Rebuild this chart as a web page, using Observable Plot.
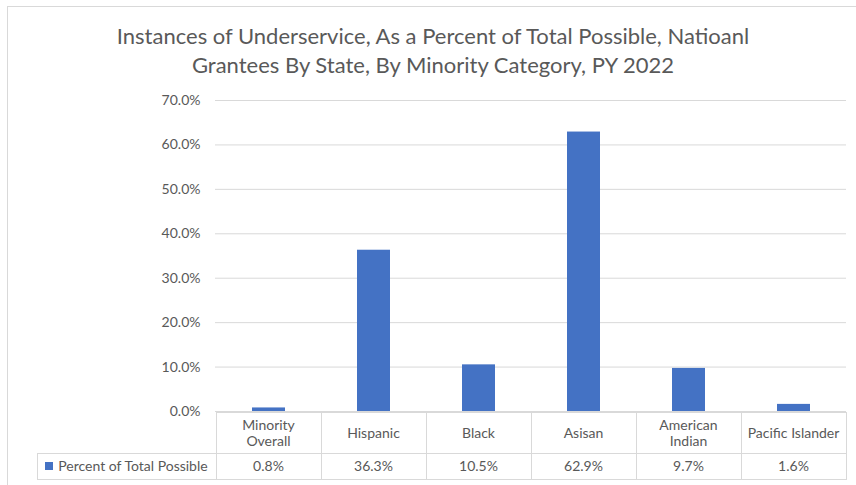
<!DOCTYPE html>
<html>
<head>
<meta charset="utf-8">
<script src="https://cdn.jsdelivr.net/npm/d3@7"></script>
<script src="https://cdn.jsdelivr.net/npm/@observablehq/plot@0.6"></script>
<style>
  body { margin: 0; background: #fff; }
  #chart { position: relative; width: 856px; height: 485px; overflow: hidden; background: #fff; font-family: Lato, "Open Sans", sans-serif; color: #595959; }
  #frame { position: absolute; left: 7px; top: 6px; width: 900px; height: 520px; border: 1px solid #d9d9d9; box-sizing: border-box; }
  #title { position: absolute; top: 21px; left: 0; width: 866px; text-align: center; font-size: 22px; line-height: 29px; color: #595959; white-space: nowrap; }
  #plot { position: absolute; left: 0; top: 0; }
  .line { position: absolute; background: #d9d9d9; }
  .cell { position: absolute; display: flex; align-items: center; justify-content: center; text-align: center; font-size: 14px; line-height: 16px; color: #595959; white-space: pre; }
  .key { display: inline-block; width: 8px; height: 8px; background: #4472C4; margin-right: 5px; }
</style>
</head>
<body>
<div id="chart">
  <div id="frame"></div>
  <div id="title"></div>
  <div id="plot"></div>
</div>
<script>
const titleLines = [
  "Instances of Underservice, As a Percent of Total Possible, Natioanl",
  "Grantees By State, By Minority Category, PY 2022"
];
const categories = ["Minority\nOverall", "Hispanic", "Black", "Asisan", "American\nIndian", "Pacific Islander"];
const values = [0.008, 0.363, 0.105, 0.629, 0.097, 0.016];
const valueLabels = ["0.8%", "36.3%", "10.5%", "62.9%", "9.7%", "1.6%"];
const yTicks = [0, 0.1, 0.2, 0.3, 0.4, 0.5, 0.6, 0.7];
const seriesName = "Percent of Total Possible";
const barColor = "#4472C4";

document.getElementById("title").innerHTML = titleLines.join("<br>");

const data = categories.map((c, i) => ({category: c, value: values[i]}));

const plot = Plot.plot({
  width: 856,
  height: 420,
  marginTop: 100,
  marginBottom: 9,
  marginLeft: 215,
  marginRight: 10,
  style: {fontFamily: "Lato, 'Open Sans', sans-serif", fontSize: "14px", color: "#595959", background: "transparent", overflow: "visible"},
  x: {domain: categories, paddingInner: 0.686, paddingOuter: 0.343, axis: null},
  y: {domain: [0, 0.7], label: null},
  marks: [
    Plot.ruleY(yTicks, {stroke: "#d9d9d9", strokeWidth: 1, strokeOpacity: 1}),
    Plot.barY(data, {x: "category", y: "value", fill: barColor}),
    Plot.axisY(yTicks, {tickFormat: d => (d * 100).toFixed(1) + "%", tickSize: 0, tickPadding: 15, fontSize: 14, fill: "#595959", label: null})
  ]
});
document.getElementById("plot").appendChild(plot);

// Data table below the plot, aligned to the x scale
const xs = plot.scale("x");
const ys = plot.scale("y");
const step = xs.step;
const bw = xs.bandwidth;
const chart = document.getElementById("chart");
const top0 = Math.round(ys.apply(0)) + 1;
const rowH1 = 41, rowH2 = 26;
const mid = top0 + rowH1, bot = mid + rowH2;
const lefts = categories.map(c => xs.apply(c) + bw / 2 - step / 2);
const tableRight = lefts[lefts.length - 1] + step;
const legendLeft = 37;

function line(x, y, w, h) {
  const d = document.createElement("div");
  d.className = "line";
  Object.assign(d.style, {left: x + "px", top: y + "px", width: w + "px", height: h + "px"});
  chart.appendChild(d);
}
function cell(x, y, w, h, html) {
  const d = document.createElement("div");
  d.className = "cell";
  Object.assign(d.style, {left: x + "px", top: y + "px", width: w + "px", height: h + "px"});
  d.innerHTML = html;
  chart.appendChild(d);
}
line(lefts[0], top0, tableRight - lefts[0] + 1, 1);
line(legendLeft, mid, tableRight - legendLeft + 1, 1);
line(legendLeft, bot, tableRight - legendLeft + 1, 1);
line(legendLeft, mid, 1, rowH2 + 1);
lefts.forEach(l => line(Math.round(l), top0, 1, bot - top0 + 1));
line(Math.round(tableRight), top0, 1, bot - top0 + 1);

categories.forEach((c, i) => {
  cell(lefts[i], top0, step, rowH1, c);
  cell(lefts[i], mid, step, rowH2, valueLabels[i]);
});
cell(legendLeft, mid, lefts[0] - legendLeft, rowH2, '<span class="key"></span>' + seriesName);
</script>
</body>
</html>
